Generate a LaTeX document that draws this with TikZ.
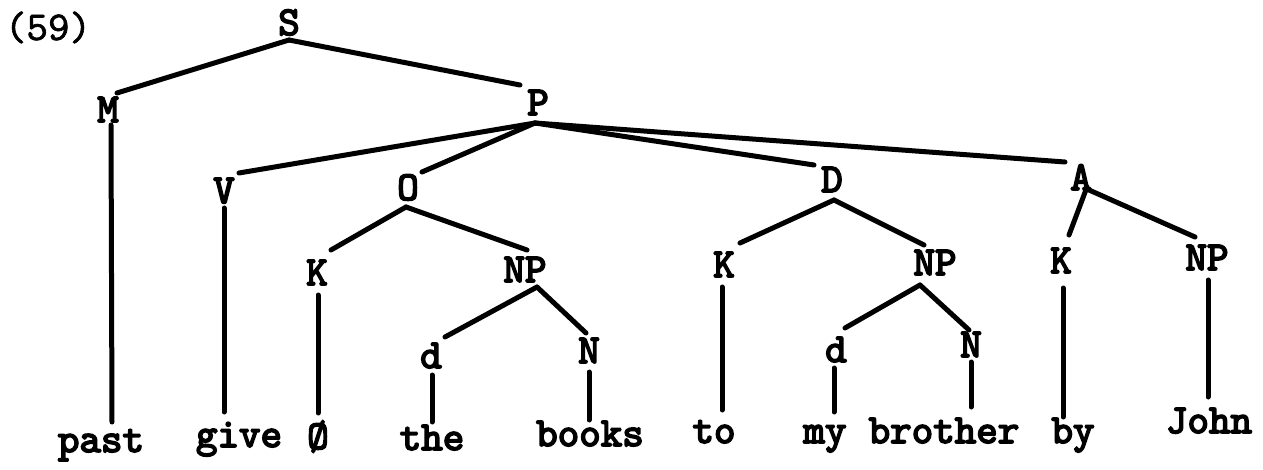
\documentclass[tikz,border=0pt]{standalone}
\usepackage{fontspec}
\newfontfamily\tw{lmmono10-regular.otf}[FakeBold=4]
\newfontfamily\twr{lmmono10-regular.otf}[FakeBold=1.5]
\tikzset{
  lab/.style={font=\tw\fontsize{41}{41}\selectfont, inner sep=0pt, anchor=base},
  ln/.style={line width=5pt, line cap=round}
}
\begin{document}
\begin{tikzpicture}[x=1pt,y=-1pt]
\useasboundingbox[fill=white] (0,0) rectangle (1263,470);
\node[lab,font=\twr\fontsize{41}{41}\selectfont] (num) at (48,40) {(59)};
% categories
\node[lab] (S) at (289,35) {S};
\node[lab] (M) at (108,122) {M};
\node[lab] (P) at (538,115) {P};
\node[lab] (V) at (224,203) {V};
\node[lab] (O) at (408,200) {O};
\node[lab] (D) at (832,192) {D};
\node[lab] (A) at (1081,190) {A};
\node[lab] (K1) at (317,285) {K};
\node[lab] (NP1) at (525,282) {NP};
\node[lab] (K2) at (724,277) {K};
\node[lab] (NP2) at (935,275) {NP};
\node[lab] (K3) at (1061,273) {K};
\node[lab] (NP3) at (1207,270) {NP};
\node[lab] (d1) at (431,368) {d};
\node[lab] (N1) at (589,363) {N};
\node[lab] (d2) at (836,362) {d};
\node[lab] (N2) at (971,357) {N};
% words
\node[lab] (past) at (101,452) {past};
\node[lab] (give) at (239,447) {give};
\node[lab] (zero) at (318,449) {Ø};
\node[lab] (the) at (432,450) {the};
\node[lab] (books) at (590,446) {books};
\node[lab] (to) at (714,443) {to};
\node[lab] (my) at (825,443) {my};
\node[lab] (brother) at (944,443) {brother};
\node[lab] (by) at (1073,443) {by};
\node[lab] (John) at (1209,433) {John};
% connectors
\draw[ln] ([shift={(0,5)}]S.base) -- ([shift={(9,-29)}]M.base);
\draw[ln] ([shift={(0,5)}]S.base) -- ([shift={(-18,-30)}]P.base);
\draw[ln] ([shift={(3,3)}]M.base) -- ([shift={(11,-30)}]past.base);
\draw[ln] ([shift={(-3,8)}]P.base) -- ([shift={(15,-30)}]V.base);
\draw[ln] ([shift={(-3,8)}]P.base) -- ([shift={(14,-28)}]O.base);
\draw[ln] ([shift={(-3,8)}]P.base) -- ([shift={(-18,-27)}]D.base);
\draw[ln] ([shift={(-3,8)}]P.base) -- ([shift={(-16,-28)}]A.base);
\draw[ln] ([shift={(0,5)}]V.base) -- ([shift={(-15,-35)}]give.base);
\draw[ln] ([shift={(-2,7)}]O.base) -- ([shift={(14,-35)}]K1.base);
\draw[ln] ([shift={(-2,7)}]O.base) -- ([shift={(2,-32)}]NP1.base);
\draw[ln] ([shift={(1,10)}]K1.base) -- ([shift={(0,-36)}]zero.base);
\draw[ln] ([shift={(12,5)}]NP1.base) -- ([shift={(14,-31)}]d1.base);
\draw[ln] ([shift={(12,5)}]NP1.base) -- ([shift={(-3,-30)}]N1.base);
\draw[ln] ([shift={(1,7)}]d1.base) -- ([shift={(0,-28)}]the.base);
\draw[ln] ([shift={(0,9)}]N1.base) -- ([shift={(-1,-26)}]books.base);
\draw[ln] ([shift={(2,8)}]D.base) -- ([shift={(16,-34)}]K2.base);
\draw[ln] ([shift={(2,8)}]D.base) -- ([shift={(-11,-30)}]NP2.base);
\draw[ln] ([shift={(-2,10)}]K2.base) -- ([shift={(8,-33)}]to.base);
\draw[ln] ([shift={(-15,10)}]NP2.base) -- ([shift={(9,-34)}]d2.base);
\draw[ln] ([shift={(-15,10)}]NP2.base) -- ([shift={(-2,-27)}]N2.base);
\draw[ln] ([shift={(-2,6)}]d2.base) -- ([shift={(9,-31)}]my.base);
\draw[ln] ([shift={(0,5)}]N2.base) -- ([shift={(27,-36)}]brother.base);
\draw[ln] ([shift={(6,-3)}]A.base) -- ([shift={(8,-38)}]K3.base);
\draw[ln] ([shift={(8,0)}]A.base) -- ([shift={(-12,-33)}]NP3.base);
\draw[ln] ([shift={(2,15)}]K3.base) -- ([shift={(-10,-26)}]by.base);
\draw[ln] ([shift={(1,10)}]NP3.base) -- ([shift={(-1,-36)}]John.base);
\end{tikzpicture}
\end{document}
